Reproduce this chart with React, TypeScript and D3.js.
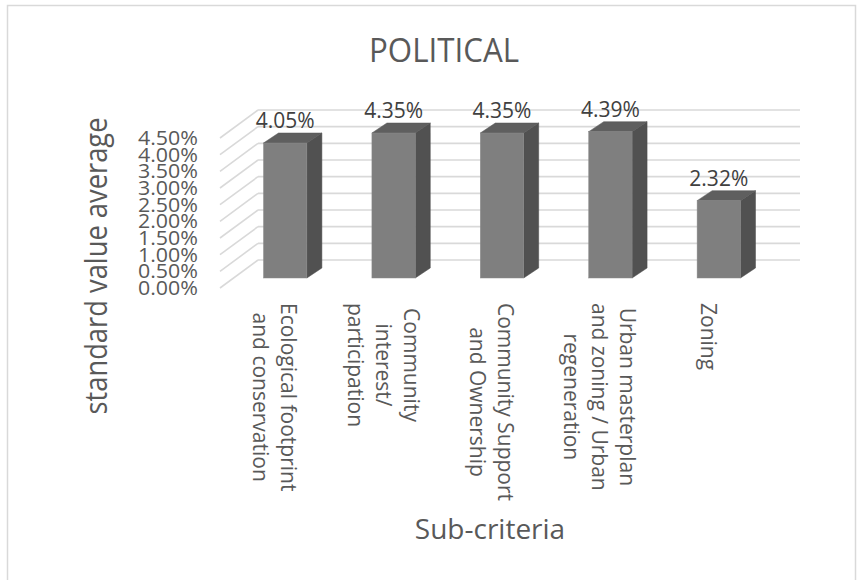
import React from "react";
import * as d3 from "d3";

const categories: string[][] = [
  ["Ecological footprint", "and conservation"],
  ["Community", "interest/", "participation"],
  ["Community Support", "and Ownership"],
  ["Urban masterplan", "and zoning / Urban", "regeneration"],
  ["Zoning"],
];
const values: number[] = [4.05, 4.35, 4.35, 4.39, 2.32];
const yTicks: number[] = [0, 0.5, 1, 1.5, 2, 2.5, 3, 3.5, 4, 4.5];
const title = "POLITICAL";
const yTitle = "standard value average";
const xTitle = "Sub-criteria";

const W = 867;
const H = 580;
const FONT = "'Open Sans', 'DejaVu Sans', sans-serif";

// plot geometry (front plane of the 3D box)
const X0 = 220;
const X1 = 762;
const Y0 = 288;
const Y1 = 138;
const DEPTH = { dx: 38, dy: -28 }; // wall depth
const BAR_FRONT = { dx: 11, dy: -10 }; // bar front-face offset from front plane
const BAR_DEPTH = { dx: 15, dy: -10 }; // bar depth
const BAR_FRAC = 0.4;

const CAT_FONT = 21;
const CAT_LINE = 28;
const CAT_TOP = 303;

let measureCtx: CanvasRenderingContext2D | null = null;
function measure(text: string, size: number): number {
  if (!measureCtx) {
    const c = document.createElement("canvas");
    measureCtx = c.getContext("2d");
  }
  if (!measureCtx) return text.length * size * 0.5;
  measureCtx.font = `${size}px 'Open Sans'`;
  return measureCtx.measureText(text).width;
}

export default function App() {
  const keys = categories.map((c) => c.join(" "));
  const x = d3.scaleBand<string>().domain(keys).range([X0, X1]).padding(0);
  const y = d3.scaleLinear().domain([0, 4.5]).range([Y0, Y1]);
  const bw = x.bandwidth() * BAR_FRAC;
  const pct = d3.format(".2%");

  const grid = "#d9d9d9";

  return (
    <svg
      width={W}
      height={H}
      style={{ position: "absolute", left: 0, top: 0, background: "#fff" }}
      fontFamily={FONT}
    >
      <rect x={7.5} y={5.5} width={848} height={620} fill="#fff" stroke={grid} strokeWidth={1.5} />

      <text
        x={444}
        y={62}
        textAnchor="middle"
        fontSize={33}
        textLength={150}
        lengthAdjust="spacingAndGlyphs"
        fill="#595959"
      >
        {title}
      </text>

      {/* gridlines */}
      {yTicks.map((t) => (
        <g key={"g" + t}>
          <line
            x1={X0}
            y1={y(t)}
            x2={X0 + DEPTH.dx}
            y2={y(t) + DEPTH.dy}
            stroke={grid}
            strokeWidth={1.6}
          />
          <line
            x1={X0 + DEPTH.dx}
            y1={y(t) + DEPTH.dy}
            x2={X1 + DEPTH.dx}
            y2={y(t) + DEPTH.dy}
            stroke={grid}
            strokeWidth={1.6}
          />
        </g>
      ))}

      {/* tick labels */}
      {yTicks.map((t) => (
        <text
          key={"t" + t}
          x={198}
          y={y(t) + 7}
          textAnchor="end"
          fontSize={19.5}
          textLength={60}
          lengthAdjust="spacingAndGlyphs"
          fill="#595959"
        >
          {pct(t / 100)}
        </text>
      ))}

      {/* bars */}
      {values.map((v, i) => {
        const k = keys[i];
        const fx = (x(k) as number) + (x.bandwidth() - bw) / 2 + BAR_FRONT.dx;
        const fyB = y(0) + BAR_FRONT.dy;
        const fyT = y(v) + BAR_FRONT.dy;
        const ddx = BAR_DEPTH.dx;
        const ddy = BAR_DEPTH.dy;
        const top = `M${fx},${fyT} L${fx + bw},${fyT} L${fx + bw + ddx},${fyT + ddy} L${fx + ddx},${fyT + ddy} Z`;
        const side = `M${fx + bw},${fyT} L${fx + bw + ddx},${fyT + ddy} L${fx + bw + ddx},${fyB + ddy} L${fx + bw},${fyB} Z`;
        return (
          <g key={"b" + i}>
            <path d={side} fill="#515151" stroke="#4a4a4a" strokeWidth={0.5} />
            <path d={top} fill="#5f5f5f" stroke="#575757" strokeWidth={0.5} />
            <rect x={fx} y={fyT} width={bw} height={fyB - fyT} fill="#7f7f7f" stroke="#8a8a8a" strokeWidth={0.5} />
            <text
              x={fx + bw / 2}
              y={fyT + ddy - 5}
              textAnchor="middle"
              fontSize={21}
              fill="#404040"
            >
              {pct(v / 100)}
            </text>
          </g>
        );
      })}

      {/* category labels */}
      {categories.map((lines, i) => {
        const k = keys[i];
        const cx = (x(k) as number) + x.bandwidth() / 2;
        const maxLen = Math.max(...lines.map((l) => measure(l, CAT_FONT)));
        const n = lines.length;
        return (
          <g key={"c" + i} transform={`translate(${cx},${CAT_TOP}) rotate(90)`}>
            {lines.map((l, j) => {
              const off = ((n - 1) / 2 - j) * CAT_LINE;
              return (
                <text
                  key={j}
                  x={maxLen / 2}
                  y={7 - off}
                  textAnchor="middle"
                  fontSize={CAT_FONT}
                  fill="#595959"
                >
                  {l}
                </text>
              );
            })}
          </g>
        );
      })}

      {/* axis titles */}
      <text
        transform={`translate(107,266) rotate(-90)`}
        textAnchor="middle"
        fontSize={31}
        textLength={297}
        lengthAdjust="spacingAndGlyphs"
        fill="#595959"
      >
        {yTitle}
      </text>
      <text x={490} y={539} textAnchor="middle" fontSize={28} fill="#595959">
        {xTitle}
      </text>
    </svg>
  );
}
